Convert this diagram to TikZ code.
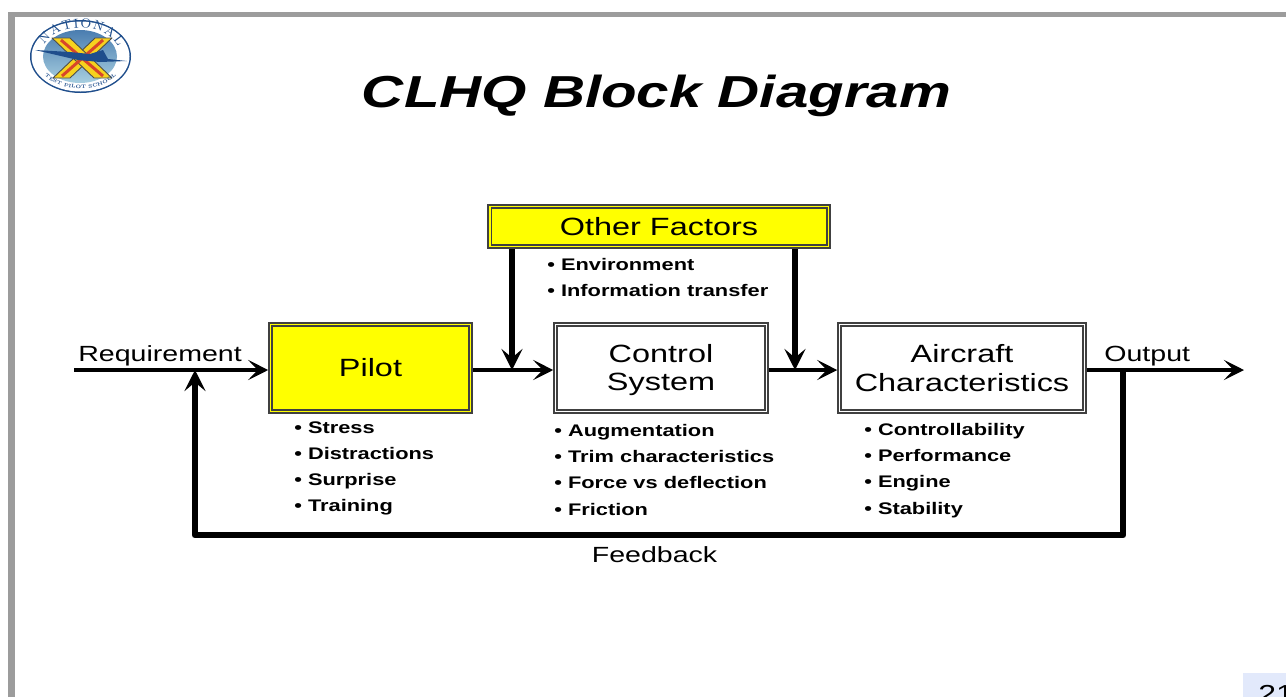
\documentclass[tikz,border=0pt]{standalone}
\usepackage{fontspec}
\usetikzlibrary{arrows.meta,decorations.text}
\newfontfamily\widefont[FakeStretch=1.3]{Liberation Sans}
\definecolor{framegray}{HTML}{9C9C9C}
\definecolor{pagetab}{HTML}{E2E9FB}
\definecolor{boxyellow}{HTML}{FFFF00}
\definecolor{logoblue}{HTML}{1F4E8C}
\definecolor{logosteel}{HTML}{4A7DB0}
\definecolor{logosky}{HTML}{A8CFE0}
\definecolor{logored}{HTML}{D8452A}
\definecolor{logoyellow}{HTML}{F6D21E}
\tikzset{
  bigbox/.style={draw=black!75, line width=0.8pt, double, double distance=1.1pt, outer sep=1.3pt,
    align=center, font=\widefont\fontsize{14.2}{16}\selectfont, inner sep=0pt},
  label/.style={font=\widefont\fontsize{12.5}{15}\selectfont, inner sep=0pt},
  itemlist/.style={anchor=north west, align=left, inner sep=0pt,
    font=\widefont\bfseries\fontsize{9.55}{14.9}\selectfont},
  mainline/.style={line width=2.8pt, -{Stealth[length=11.5pt, width=11.5pt, inset=5.5pt]}},
  heavyline/.style={line width=3.8pt, -{Stealth[length=12pt, width=12pt, inset=5pt]}},
  xlimb/.style={fill=logoyellow, draw=black!70, line width=0.5pt, line join=round}
}
\begin{document}
\begin{tikzpicture}[x=0.02cm, y=-0.02cm]
\useasboundingbox (0,0) rectangle (1286,697);
% Slide frame
\fill[white] (0,0) rectangle (1286,697);
\draw[framegray, line width=4pt] (11.5,697) -- (11.5,12);
\draw[framegray, line width=2.8pt] (8,14.5) -- (1286,14.5);

% Logo
\fill[logoblue] (80.5,56.5) ellipse [x radius=50.5, y radius=36.5];
\fill[white] (80.5,56.5) ellipse [x radius=49, y radius=35];
\shade[top color=logosteel, bottom color=logosky] (80,56.5) ellipse [x radius=37, y radius=26.5];
\fill[xlimb] (95,38) -- (112,38) -- (70,78) -- (53,78) -- cycle;
\fill[xlimb, draw] (52,38) -- (70,38) -- (112,78) -- (94,78) -- cycle;
\draw[logored, line width=1.7pt] (61,40) -- (103,76) (103,40) -- (62,76);
\fill[logoblue] (35,50) -- (70,52) -- (90,54) -- (103,50) -- (108,59) -- (127,61) -- (100,62) -- (78,60) -- cycle;
\path[decorate, decoration={text along path, text align={fit to path},
    text={|\fontsize{7.5}{9}\selectfont\color{logoblue}|NATIONAL}}]
  (80.5,56.5) ++(205:40 and 28.5) arc [start angle=205, end angle=340, x radius=40, y radius=28.5];
\path[decorate, decoration={text along path, text align=center,
    text={|\fontsize{2.8}{4}\selectfont\bfseries\color{logoblue}|TEST PILOT SCHOOL}}]
  (80.5,56.5) ++(165:45 and 32) arc [start angle=165, end angle=15, x radius=45, y radius=32];

% Title
\node[font=\widefont\bfseries\itshape\fontsize{25.5}{30}\selectfont, inner sep=0pt] (title) at (656.5,96) {CLHQ Block Diagram};

% Blocks
\node[bigbox, fill=boxyellow, double=boxyellow, minimum width=4cm, minimum height=1.74cm] (pilot) at (370.5,368) {Pilot};
\node[bigbox, double=white, text depth=0.7pt, minimum width=4.22cm, minimum height=1.74cm] (ctrl) at (661,368) {Control\\System};
\node[bigbox, double=white, text depth=-1.1pt, minimum width=4.9cm, minimum height=1.74cm] (aircraft) at (962,368) {Aircraft\\Characteristics};
\node[bigbox, fill=boxyellow, double=boxyellow, minimum width=6.78cm, minimum height=0.8cm] (other) at (659,226.5) {Other Factors};

% Factor lists
\node[itemlist] (otherlist) at (547,258) {• Environment\\• Information transfer};
\node[itemlist] (pilotlist) at (294,421) {• Stress\\• Distractions\\• Surprise\\• Training};
\node[itemlist] (ctrllist) at (554,424) {• Augmentation\\• Trim characteristics\\• Force vs deflection\\• Friction};
\node[itemlist] (aircraftlist) at (864,423) {• Controllability\\• Performance\\• Engine\\• Stability};

% Junctions
\coordinate (req) at (74,370);
\coordinate (out) at (1244,370);
\coordinate (sumpilot) at (195,370);
\coordinate (sumctrl) at (512,370);
\coordinate (sumaircraft) at (795,370);
\coordinate (takeoff) at (1123,370);
\coordinate (fbright) at (1123,535);
\coordinate (fbleft) at (195,535);

% Forward path
\draw[mainline] (req) -- (req -| pilot.west);
\draw[mainline] (req -| pilot.east) -- (req -| ctrl.west);
\draw[mainline] (req -| ctrl.east) -- (req -| aircraft.west);
\draw[mainline] (req -| aircraft.east) -- (out);

% Other factors
\draw[heavyline] (other.south -| sumctrl) -- (sumctrl);
\draw[heavyline] (other.south -| sumaircraft) -- (sumaircraft);

% Feedback
\draw[heavyline, line join=round] (takeoff) -- (fbright) -- (fbleft) -- (sumpilot);

% Labels
\node[label, anchor=base west] (reqlabel) at (78,361) {Requirement};
\node[label, anchor=base west] (outlabel) at (1104,361) {Output};
\node[label, anchor=base] (fblabel) at (654.5,562) {Feedback};

% Page number
\fill[pagetab] (1243,673) rectangle (1286,697);
\node[font=\widefont\fontsize{14}{16}\selectfont, anchor=base west, inner sep=0pt] (pagenum) at (1258,702) {21};
\end{tikzpicture}
\end{document}
